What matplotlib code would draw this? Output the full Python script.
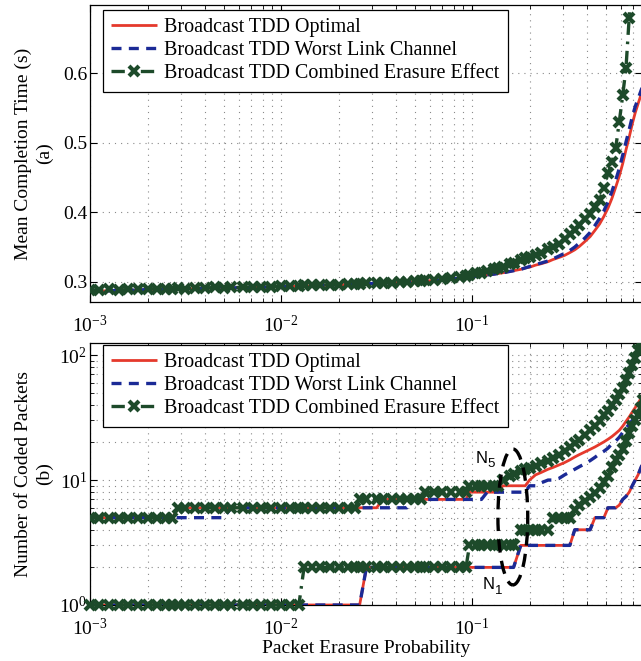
import matplotlib
matplotlib.use('Agg')
import matplotlib.pyplot as plt
from matplotlib.patches import Ellipse
from matplotlib.ticker import LogLocator, FixedLocator, FormatStrFormatter, NullFormatter

plt.rcParams['font.family'] = ['Liberation Serif', 'DejaVu Serif']
plt.rcParams['mathtext.fontset'] = 'custom'
plt.rcParams['mathtext.rm'] = 'Liberation Serif'
plt.rcParams['mathtext.it'] = 'Liberation Serif:italic'
plt.rcParams['mathtext.bf'] = 'Liberation Serif:bold'

# ---------------- data ----------------
P = [0.0010, 0.00112, 0.00126, 0.00141, 0.00158, 0.00178, 0.0020, 0.00224, 0.0025, 0.0027,
     0.0029, 0.00316, 0.00355, 0.0040, 0.0045, 0.0050, 0.0055, 0.0063, 0.0071, 0.0079,
     0.0089, 0.0100, 0.0112, 0.0124, 0.0132, 0.0145, 0.0160, 0.0180, 0.0200, 0.0224,
     0.0243, 0.0258, 0.0280, 0.0317, 0.0340, 0.0380, 0.0420, 0.0456, 0.0500, 0.0540,
     0.0570, 0.0630, 0.0700, 0.0780, 0.0860, 0.0930, 0.0970, 0.1050, 0.1120, 0.1200,
     0.1300, 0.1370, 0.1450, 0.1580, 0.1650, 0.1800, 0.1900, 0.2000, 0.2150, 0.2300,
     0.2500, 0.2650, 0.2850, 0.3050, 0.3250, 0.3450, 0.3650, 0.3900, 0.4150, 0.4400,
     0.4650, 0.4900, 0.5150, 0.5400, 0.5650, 0.5900, 0.6150, 0.6400, 0.6650, 0.6900,
     0.7150, 0.7400, 0.7650, 0.7900]

# (a) mean completion time (s)
T_OPT = [0.287, 0.287, 0.287, 0.288, 0.288, 0.288, 0.289, 0.289, 0.289, 0.290,
         0.290, 0.290, 0.290, 0.291, 0.291, 0.291, 0.291, 0.292, 0.292, 0.292,
         0.293, 0.293, 0.293, 0.294, 0.294, 0.294, 0.295, 0.295, 0.296, 0.296,
         0.296, 0.297, 0.297, 0.298, 0.298, 0.299, 0.299, 0.300, 0.300, 0.301,
         0.301, 0.302, 0.303, 0.304, 0.305, 0.306, 0.307, 0.308, 0.309, 0.310,
         0.311, 0.312, 0.313, 0.315, 0.316, 0.318, 0.320, 0.321, 0.324, 0.326,
         0.329, 0.332, 0.335, 0.338, 0.342, 0.346, 0.351, 0.358, 0.365, 0.374,
         0.383, 0.394, 0.406, 0.420, 0.436, 0.452, 0.470, 0.490, 0.508, 0.527,
         0.543, 0.556, 0.568, 0.580]
T_WORST = [0.287, 0.287, 0.287, 0.288, 0.288, 0.288, 0.289, 0.289, 0.289, 0.290,
           0.290, 0.290, 0.290, 0.291, 0.291, 0.294, 0.291, 0.292, 0.292, 0.292,
           0.293, 0.293, 0.293, 0.294, 0.294, 0.294, 0.295, 0.295, 0.296, 0.296,
           0.296, 0.297, 0.297, 0.298, 0.298, 0.299, 0.299, 0.300, 0.300, 0.301,
           0.301, 0.302, 0.303, 0.304, 0.305, 0.306, 0.307, 0.308, 0.309, 0.310,
           0.311, 0.312, 0.313, 0.315, 0.316, 0.318, 0.320, 0.322, 0.325, 0.327,
           0.330, 0.333, 0.337, 0.341, 0.345, 0.350, 0.356, 0.363, 0.371, 0.381,
           0.391, 0.402, 0.415, 0.430, 0.446, 0.463, 0.482, 0.501, 0.519, 0.537,
           0.552, 0.563, 0.574, 0.585]
T_COMB = [0.288, 0.288, 0.289, 0.288, 0.289, 0.289, 0.290, 0.290, 0.290, 0.290,
          0.291, 0.290, 0.291, 0.291, 0.292, 0.291, 0.292, 0.292, 0.293, 0.292,
          0.293, 0.294, 0.294, 0.294, 0.295, 0.295, 0.295, 0.296, 0.296, 0.297,
          0.297, 0.297, 0.298, 0.298, 0.299, 0.299, 0.300, 0.300, 0.301, 0.301,
          0.302, 0.303, 0.304, 0.306, 0.307, 0.309, 0.310, 0.312, 0.313, 0.315,
          0.318, 0.320, 0.322, 0.325, 0.327, 0.331, 0.334, 0.336, 0.339, 0.342,
          0.347, 0.350, 0.355, 0.362, 0.369, 0.375, 0.381, 0.390, 0.398, 0.407,
          0.418, 0.435, 0.456, 0.472, 0.492, 0.530, 0.568, 0.608, 0.680, 0.760,
          0.850, 0.950, 1.050, 1.150]

# (b) number of coded packets, N5 group (upper) and N1 group (lower)
N5_OPT = [5, 5, 5, 5, 5, 5, 5, 5, 5, 5,
          6, 6, 6, 6, 6, 6, 6, 6, 6, 6,
          6, 6, 6, 6, 6, 6, 6, 6, 6, 6,
          6, 6, 6, 6, 7, 7, 7, 7, 7, 7,
          7, 7, 7, 7, 7, 7, 8, 8, 8, 8,
          8, 8, 9, 9, 9, 9, 9, 10, 11, 11.5,
          12.2, 12.6, 13.2, 13.8, 14.5, 15.3, 16.0, 16.8, 17.6, 18.4,
          19.3, 20.2, 21.2, 22.3, 23.6, 25.0, 27.0, 29.5, 32.0, 35.0,
          38.0, 41.0, 45.0, 50.0]
N5_WORST = [5, 5, 5, 5, 5, 5, 5, 5, 5, 5,
            5, 5, 5, 5, 5, 5, 6, 6, 6, 6,
            6, 6, 6, 6, 6, 6, 6, 6, 6, 6,
            6, 6, 6, 6, 6, 6, 6, 6, 7, 7,
            7, 7, 7, 7, 7, 7, 7, 7, 7, 8,
            8, 8, 8, 8, 8, 8, 8, 9, 9, 9.5,
            10, 10, 10.3, 11.0, 11.6, 12.2, 12.8, 13.5, 14.3, 15.2,
            16.2, 17.0, 18.0, 19.5, 20.5, 22.0, 24.0, 26.0, 28.0, 30.0,
            32.5, 35.0, 38.0, 42.0]
N5_COMB = [5, 5, 5, 5, 5, 5, 5, 5, 5, 5,
           6, 6, 6, 6, 6, 6, 6, 6, 6, 6,
           6, 6, 6, 6, 6, 6, 6, 6, 6, 6,
           6, 7, 7, 7, 7, 7, 7, 7, 7, 7,
           8, 8, 8, 8, 8, 8, 9, 9, 9, 9,
           9, 9, 10, 10.8, 11.2, 11.8, 12.2, 12.6, 13.0, 13.6,
           14.2, 15.0, 16.0, 17.2, 18.5, 19.7, 21.0, 23.0, 25.0, 27.0,
           29.5, 33.0, 36.0, 40.0, 44.0, 49.0, 55.0, 63.0, 72.0, 84.0,
           95.0, 110.0, 128.0, 150.0]
N1_OPT = [1, 1, 1, 1, 1, 1, 1, 1, 1, 1,
          1, 1, 1, 1, 1, 1, 1, 1, 1, 1,
          1, 1, 1, 1, 1, 1, 1, 1, 1, 1,
          1, 1, 2, 2, 2, 2, 2, 2, 2, 2,
          2, 2, 2, 2, 2, 2, 2, 2, 2, 2,
          2, 2, 2, 2, 2, 3, 3, 3, 3, 3,
          3, 3, 3, 3, 3, 4, 4, 4, 4, 5,
          5, 5, 6, 6, 6, 6.3, 7, 7.4, 8, 9,
          10, 11, 12.5, 14]
N1_WORST = [1, 1, 1, 1, 1, 1, 1, 1, 1, 1,
            1, 1, 1, 1, 1, 1, 1, 1, 1, 1,
            1, 1, 1, 1, 1, 1, 1, 1, 1, 1,
            1, 1, 2, 2, 2, 2, 2, 2, 2, 2,
            2, 2, 2, 2, 2, 2, 2, 2, 2, 2,
            2, 2, 2, 2, 2, 3, 3, 3, 3, 3,
            3, 3, 3, 3, 3, 4, 4, 4, 4, 5,
            5, 5, 6, 6, 6, 6.3, 7, 7.4, 8, 9,
            10, 11, 12.5, 14]
N1_COMB = [1, 1, 1, 1, 1, 1, 1, 1, 1, 1,
           1, 1, 1, 1, 1, 1, 1, 1, 1, 1,
           1, 1, 1, 1, 2, 2, 2, 2, 2, 2,
           2, 2, 2, 2, 2, 2, 2, 2, 2, 2,
           2, 2, 2, 2, 2, 2, 3, 3, 3, 3,
           3, 3, 3, 3, 3, 4, 4, 4, 4, 4,
           4, 5, 5, 5, 5, 5.8, 6.3, 6.8, 7.3, 7.9,
           8.7, 9.6, 10.8, 12.8, 14.5, 16.0, 17.8, 20.5, 24.0, 27.0,
           30.0, 33.0, 38.0, 44.0]

LABELS = ['Broadcast TDD Optimal', 'Broadcast TDD Worst Link Channel',
          'Broadcast TDD Combined Erasure Effect']
X_TICKS = [1e-3, 1e-2, 1e-1]
T_TICKS = [0.3, 0.4, 0.5, 0.6]
N_TICKS = [1, 10, 100]

# ---------------- style ----------------
RED = '#e5392c'
BLUE = '#1b2a96'
GREEN = '#1d4a2a'
FS = 14
LEG_FS = 14.5
grid_kw = dict(color='#8a8a8a', linestyle=(0, (1, 4.5)), linewidth=0.8)
sans = ['Liberation Sans', 'DejaVu Sans']

fig = plt.figure(figsize=(6.41, 6.61), dpi=100)
ax1 = fig.add_axes([90 / 641, 359 / 661, 552 / 641, 297 / 661])
ax2 = fig.add_axes([90 / 641, 56 / 661, 552 / 641, 262 / 661])


def draw(ax, y_opt, y_worst, y_comb, clip=True):
    l1, = ax.plot(P, y_opt, color=RED, lw=2.0, solid_capstyle='butt', zorder=3)
    l2, = ax.plot(P, y_worst, color=BLUE, lw=2.4, dashes=(3, 2.2), zorder=4)
    l3, = ax.plot(P, y_comb, color=GREEN, lw=2.4, dashes=(4, 2, 0.8, 2), marker='x',
                  markersize=7.5, markeredgewidth=3.0, zorder=5, clip_on=clip)
    return l1, l2, l3


def style(ax):
    ax.set_xscale('log')
    ax.set_xlim(1e-3, 0.776)
    ax.xaxis.set_major_locator(FixedLocator(X_TICKS))
    ax.xaxis.set_minor_locator(LogLocator(base=10, subs=range(2, 10), numticks=20))
    ax.xaxis.set_minor_formatter(NullFormatter())
    ax.tick_params(which='both', direction='in', top=True, right=True, labelsize=FS)
    ax.tick_params(which='major', length=5, width=0.8)
    ax.tick_params(which='minor', length=3, width=0.6)
    ax.tick_params(axis='x', which='major', pad=9)
    ax.tick_params(axis='y', which='major', pad=2)
    ax.grid(True, which='major', **grid_kw)
    ax.xaxis.grid(True, which='minor', **grid_kw)
    for s in ax.spines.values():
        s.set_linewidth(0.9)
    ax.set_axisbelow(True)


def legend(ax, handles, anchor):
    lg = ax.legend(handles, LABELS, loc='upper left', bbox_to_anchor=anchor,
                   borderaxespad=0, fontsize=LEG_FS, fancybox=False, edgecolor='black',
                   framealpha=1, handlelength=2.3, handletextpad=0.35,
                   labelspacing=0.2, borderpad=0.4)
    lg.get_frame().set_linewidth(0.9)
    lg.set_zorder(10)
    return lg


# ---- (a)
h = draw(ax1, T_OPT, T_WORST, T_COMB)
style(ax1)
ax1.set_ylim(0.271, 0.698)
ax1.yaxis.set_major_locator(FixedLocator(T_TICKS))
ax1.yaxis.set_major_formatter(FormatStrFormatter('%.1f'))
ax1.set_ylabel('Mean Completion Time (s)\n(a)', fontsize=FS, linespacing=1.35)
ax1.yaxis.set_label_coords(-0.066, 0.5)
legend(ax1, h, (0.0236, 0.983))

# ---- (b)
draw(ax2, N5_OPT, N5_WORST, N5_COMB)
h2 = draw(ax2, N1_OPT, N1_WORST, N1_COMB, clip=False)
style(ax2)
ax2.set_yscale('log')
ax2.set_ylim(1, 125)
ax2.yaxis.set_major_locator(FixedLocator(N_TICKS))
ax2.yaxis.set_minor_locator(LogLocator(base=10, subs=range(2, 10), numticks=20))
ax2.yaxis.set_minor_formatter(NullFormatter())
ax2.yaxis.grid(True, which='minor', **grid_kw)
ax2.tick_params(axis='y', which='major', pad=2)
ax2.set_ylabel('Number of Coded Packets\n(b)', fontsize=FS, linespacing=1.35)
ax2.yaxis.set_label_coords(-0.066, 0.5)
ax2.set_xlabel('Packet Erasure Probability', fontsize=FS, labelpad=1)
legend(ax2, h2, (0.0236, 0.992))

# annotation: dashed ellipse and N5 / N1 labels
ax2.add_patch(Ellipse((0.766, 0.336), 0.054, 0.519, transform=ax2.transAxes,
                      fill=False, edgecolor='black', lw=2.4, linestyle=(0, (4, 2.5)),
                      zorder=6))
for name, sub, px, py in [('N', '5', 0.104, 15), ('N', '1', 0.114, 1.45)]:
    ax2.annotate(name, (px, py), fontsize=12, family=sans, ha='left', va='center', zorder=7)
    ax2.annotate(sub, (px, py), xytext=(8.5, -4.5), textcoords='offset points',
                 fontsize=9.5, family=sans, ha='left', va='center', zorder=7)

fig.savefig('out.png', dpi=100)
